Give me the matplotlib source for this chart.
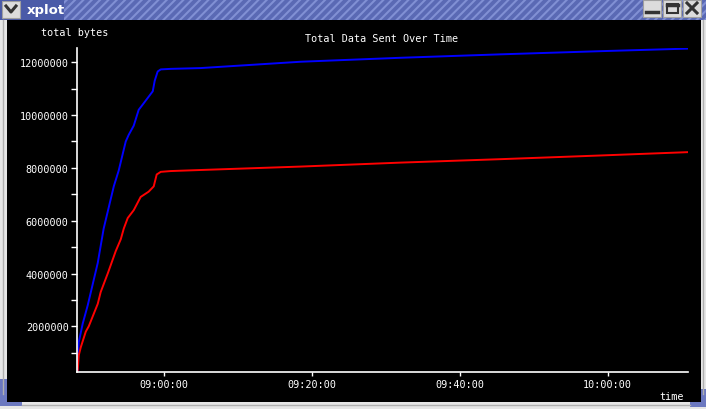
import matplotlib.pyplot as plt
from matplotlib.patches import Rectangle
from matplotlib.ticker import FuncFormatter, MultipleLocator

# data
blue_times = ["08:48:23", "08:48:31", "08:49:03", "08:49:44", "08:51:05", "08:51:53",
              "08:53:15", "08:53:55", "08:54:52", "08:55:16", "08:55:57", "08:56:37",
              "08:57:10", "08:58:31", "08:58:47", "08:59:11", "08:59:36", "09:00:57",
              "09:05:00", "09:18:31", "09:32:02", "09:45:32", "09:59:03", "10:11:13"]
blue_bytes = [350000, 1400000, 2100000, 2800000, 4400000, 5700000,
              7300000, 7900000, 9000000, 9250000, 9600000, 10200000,
              10400000, 10900000, 11300000, 11650000, 11730000, 11750000,
              11780000, 12020000, 12170000, 12300000, 12420000, 12520000]

red_times = ["08:48:23", "08:48:31", "08:48:47", "08:49:28", "08:49:52", "08:51:05",
             "08:51:29", "08:52:26", "08:53:31", "08:54:12", "08:54:36", "08:55:08",
             "08:55:57", "08:56:53", "08:57:58", "08:58:39", "08:59:03", "08:59:36",
             "09:00:57", "09:05:00", "09:18:31", "09:32:02", "09:45:32", "09:59:03",
             "10:11:13"]
red_bytes = [350000, 900000, 1200000, 1800000, 2000000, 2850000,
             3300000, 4000000, 4850000, 5300000, 5700000, 6100000,
             6400000, 6900000, 7100000, 7300000, 7750000, 7850000,
             7880000, 7920000, 8050000, 8200000, 8330000, 8470000,
             8600000]

x_ticks = ["09:00:00", "09:20:00", "09:40:00", "10:00:00"]


def to_sec(s):
    h, m, sec = s.split(":")
    return int(h) * 3600 + int(m) * 60 + int(sec)


def fmt_time(v, pos):
    v = int(round(v))
    return "%02d:%02d:%02d" % (v // 3600, (v % 3600) // 60, v % 60)


W, H = 706, 410
fig = plt.figure(figsize=(W / 100, H / 100), dpi=100)
fig.patch.set_facecolor("#e6e6e6")


def px_rect(x0, y0, x1, y1, **kw):
    # rectangle given in pixel coords from the top-left corner
    r = Rectangle((x0 / W, 1 - y1 / H), (x1 - x0) / W, (y1 - y0) / H,
                  transform=fig.transFigure, zorder=-1, **kw)
    fig.patches.append(r)
    return r


def px_line(xs, ys, **kw):
    fig.add_artist(plt.Line2D([x / W for x in xs], [1 - y / H for y in ys],
                              transform=fig.transFigure, **kw))


# window frame
plt.rcParams["hatch.linewidth"] = 1.5
px_rect(0, 0, W, 21, facecolor="#5a69b4", edgecolor="#8190d4", hatch="////", linewidth=0)
px_rect(0, 0, 64, 21, facecolor="#4a5aa8", linewidth=0)
px_rect(7, 21, 701, 403, facecolor="black", linewidth=0)
px_rect(0, 380, 22, 407, facecolor="#6b78c0", linewidth=0)
px_rect(7, 380, 22, 403, facecolor="black", linewidth=0)
px_rect(690, 390, W, 408, facecolor="#6b78c0", linewidth=0)
px_rect(690, 390, 701, 403, facecolor="black", linewidth=0)
px_line([3, 3], [21, 395], color="#b0b0b0", linewidth=1)
px_line([703, 703], [21, 395], color="#b0b0b0", linewidth=1)
px_line([22, 690], [406, 406], color="#b0b0b0", linewidth=1)

# title bar buttons
px_rect(2, 2, 20, 19, facecolor="#dcdcdc", edgecolor="#a0a0a0", linewidth=0.8)
px_line([6, 11, 16], [7, 13, 7], color="#333333", linewidth=2.2)
for bx in (643, 663, 683):
    px_rect(bx, 1, bx + 18, 18, facecolor="#dcdcdc", edgecolor="#a0a0a0", linewidth=0.8)
px_line([646, 658], [13, 13], color="#333333", linewidth=2.5)
px_rect(667, 5, 678, 14, facecolor="none", edgecolor="#333333", linewidth=1.5)
px_line([667, 678], [6, 6], color="#333333", linewidth=2.5)
px_line([687, 697], [4, 14], color="#333333", linewidth=2.2)
px_line([687, 697], [14, 4], color="#333333", linewidth=2.2)
fig.text(27 / W, 1 - 10.5 / H, "xplot", color="white", fontsize=9.5,
         fontweight="bold", va="center", ha="left")

# plot area
ax = fig.add_axes([77 / W, 1 - 373 / H, (688 - 77) / W, (373 - 49) / H])
ax.set_facecolor("none")
ax.set_zorder(5)

bt = [to_sec(t) for t in blue_times]
rt = [to_sec(t) for t in red_times]
ax.plot(bt, blue_bytes, color="#0000ff", linewidth=1.4)
ax.plot(rt, red_bytes, color="#ff0000", linewidth=1.4)

t0 = to_sec("09:00:00")
ax.set_xlim(t0 - 11.72 * 60, t0 + 70.85 * 60)
ax.set_ylim(270000, 12540000)

ax.set_xticks([to_sec(t) for t in x_ticks])
ax.xaxis.set_major_formatter(FuncFormatter(fmt_time))
ax.yaxis.set_major_locator(MultipleLocator(2000000))
ax.yaxis.set_minor_locator(MultipleLocator(1000000))
ax.yaxis.set_major_formatter(FuncFormatter(lambda v, p: "%d" % v))

for side in ("top", "right"):
    ax.spines[side].set_visible(False)
for side in ("left", "bottom"):
    ax.spines[side].set_color("white")
    ax.spines[side].set_linewidth(1.2)

mono = "DejaVu Sans Mono"
ax.tick_params(axis="both", colors="white", labelsize=7.3, width=1, length=4, pad=2)
ax.tick_params(axis="y", which="minor", colors="white", width=1, length=4)
ax.tick_params(axis="x", length=3, pad=2)
for lab in ax.get_xticklabels() + ax.get_yticklabels():
    lab.set_fontfamily(mono)

fig.text(75 / W, 1 - 33 / H, "total bytes", color="white", fontsize=7.3,
         family=mono, ha="center", va="center")
fig.text(382 / W, 1 - 39 / H, "Total Data Sent Over Time", color="white", fontsize=7.3,
         family=mono, ha="center", va="center")
fig.text(672 / W, 1 - 397 / H, "time", color="white", fontsize=7.3,
         family=mono, ha="center", va="center")

fig.savefig("out.png", dpi=100, facecolor=fig.get_facecolor())
